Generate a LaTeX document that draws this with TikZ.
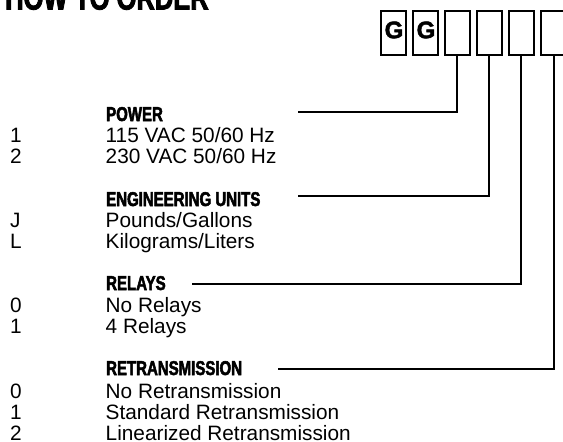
\documentclass[tikz,border=0pt]{standalone}
\usepackage{fontspec}
\setmainfont{Liberation Sans}
\newfontfamily\headfont[FakeStretch=0.75,FakeBold=2.5]{Liberation Sans Bold}
\newfontfamily\boxfont[FakeBold=2]{Liberation Sans Bold}
\begin{document}
\begin{tikzpicture}[x=1pt,y=-1pt,
  txt/.style={anchor=base west,inner sep=0pt,font=\fontsize{20.8}{24}\selectfont},
  head/.style={anchor=base west,inner sep=0pt,font=\headfont\fontsize{20}{22}\selectfont},
  box/.style={draw,line width=2pt,minimum width=25pt,minimum height=44pt,inner sep=0pt},
  gtext/.style={inner sep=0pt,font=\boxfont\fontsize{24}{24}\selectfont},
  conn/.style={line width=2pt}]
\useasboundingbox (0,0) rectangle (563,442);
\clip (0,0) rectangle (563,442);
% title
\node[anchor=base west,inner sep=0pt,font=\headfont\fontsize{34}{40}\selectfont] (title) at (5,9.5) {HOW TO ORDER};
% boxes
\node[box] (b1) at (393.5,33) {};
\node[box] (b2) at (425.5,33) {};
\node[box] (b3) at (457,33) {};
\node[box] (b4) at (489,33) {};
\node[box] (b5) at (521,33) {};
\node[box] (b6) at (553.5,33) {};
\node[gtext] (g1) at (394,30) {G};
\node[gtext] (g2) at (426,30) {G};
% power
\node[head] (hp) at (106,121) {POWER};
\node[txt] (cp1) at (10,142) {1};
\node[txt] (dp1) at (105.5,142) {115 VAC 50/60 Hz};
\node[txt] (cp2) at (10,163) {2};
\node[txt] (dp2) at (105.5,163) {230 VAC 50/60 Hz};
% engineering units
\node[head] (he) at (106,206) {ENGINEERING UNITS};
\node[txt] (ce1) at (10,227) {J};
\node[txt] (de1) at (105.5,227) {Pounds/Gallons};
\node[txt] (ce2) at (10,248) {L};
\node[txt] (de2) at (105.5,248) {Kilograms/Liters};
% relays
\node[head] (hr) at (106,290) {RELAYS};
\node[txt] (cr1) at (10,312) {0};
\node[txt] (dr1) at (105.5,312) {No Relays};
\node[txt] (cr2) at (10,333) {1};
\node[txt] (dr2) at (105.5,333) {4 Relays};
% retransmission
\node[head] (ht) at (106,375) {RETRANSMISSION};
\node[txt] (ct1) at (10,398) {0};
\node[txt] (dt1) at (105.5,398) {No Retransmission};
\node[txt] (ct2) at (10,419.5) {1};
\node[txt] (dt2) at (105.5,419.5) {Standard Retransmission};
\node[txt] (ct3) at (10,440.5) {2};
\node[txt] (dt3) at (105.5,440.5) {Linearized Retransmission};
% connectors
\coordinate (sp) at (298,112);
\coordinate (se) at (298,196);
\coordinate (sr) at (192,284);
\coordinate (st) at (278,369);
\draw[conn] (sp) -| (b3.south);
\draw[conn] (se) -| (b4.south);
\draw[conn] (sr) -| (b5.south);
\draw[conn] (st) -| (b6.south);
\end{tikzpicture}
\end{document}
